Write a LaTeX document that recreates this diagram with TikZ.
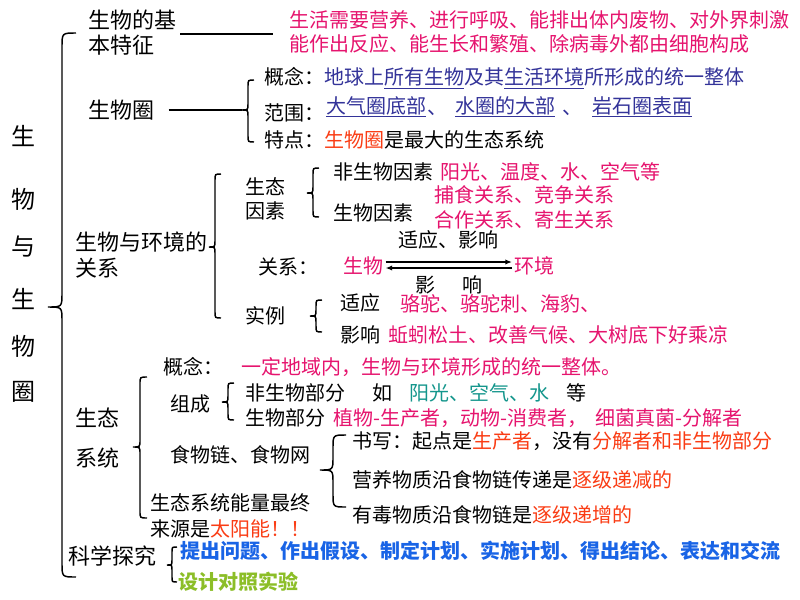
\documentclass[tikz,border=0pt]{standalone}
\usepackage{fontspec}
\setmainfont{Noto Sans CJK SC}
\usetikzlibrary{arrows.meta,calc}
\definecolor{mag}{RGB}{230,20,110}
\definecolor{navy}{RGB}{51,51,153}
\definecolor{ored}{RGB}{250,60,20}
\definecolor{teal2}{RGB}{20,150,140}
\definecolor{blu}{RGB}{25,100,230}
\definecolor{grn}{RGB}{140,190,40}
\newcommand\mybrace[5]{\draw[brc] ({#1+#5},{#2}) .. controls ({#1},{#2}) .. ({#1},{#2+#5}) -- ({#1},{#3-#5}) .. controls ({#1},{#3}) .. ({#1-#5},{#3}) .. controls ({#1},{#3}) .. ({#1},{#3+#5}) -- ({#1},{#4-#5}) .. controls ({#1},{#4}) .. ({#1+#5},{#4});}
\newcommand\ul[1]{\smash{\underline{#1}}}
\begin{document}
\begin{tikzpicture}[x=0.75pt,y=-0.75pt,
  t/.style={anchor=west,inner sep=0pt,font=\fontsize{15}{18}\selectfont},
  tb/.style={anchor=west,inner sep=0pt,font=\fontsize{16.5}{20}\selectfont},
  ttl/.style={inner sep=0pt,font=\fontsize{18}{20}\selectfont},
  brc/.style={line width=1.1pt},
  conn/.style={line width=1.5pt},
  arr/.style={line width=1.4pt,-{Latex[length=5pt,width=4pt]}}]
\useasboundingbox (0,0) rectangle (800,600);
\fill[white] (0,0) rectangle (800,600);
% title
\node[ttl] (c1) at (24,136) {生};
\node[ttl] (c2) at (24,199) {物};
\node[ttl] (c3) at (24,247) {与};
\node[ttl] (c4) at (24,299) {生};
\node[ttl] (c5) at (24,346) {物};
\node[ttl] (c6) at (24,392) {圈};
\mybrace{62}{33}{307}{577}{14}
% 1
\node[tb] (a1) at (88,20) {生物的基};
\node[tb] (a2) at (88,45) {本特征};
\coordinate (a1l) at (180,34);
\coordinate (a1r) at (273,34);
\draw[conn] (a1l) -- (a1r);
\node[t,mag] (m1) at (289,20) {生活需要营养、进行呼吸、能排出体内废物、对外界刺激};
\node[t,mag] (m2) at (289,44) {能作出反应、能生长和繁殖、除病毒外都由细胞构成};
% 2
\node[tb] (b0) at (88,110) {生物圈};
\coordinate (b0r) at (242,110);
\draw[conn] (b0.east) ++(14,0) -- (b0r);
\mybrace{248}{80}{110}{142}{6}
\node[t] (b1) at (264,77) {概念：\textcolor{navy}{地球上\ul{所有生物}及其\ul{生活环境}所形成的统一整体}};
\node[t] (b2) at (264,113) {范围：};
\node[t,navy] (b2a) at (326,113) {\ul{大气圈底部}};
\node[t,navy] (b2b) at (427,113) {、};
\node[t,navy] (b2c) at (455,113) {\ul{水圈的大部}};
\node[t,navy] (b2d) at (562,113) {、};
\node[t,navy] (b2e) at (592,113) {\ul{岩石圈表面}};
\node[t] (b3) at (264,140) {特点：\textcolor{ored}{生物圈}是最大的生态系统};
% 3
\node[tb] (e1) at (75,242) {生物与环境的};
\node[tb] (e2) at (75,268) {关系};
\mybrace{215}{174}{247}{318}{6}
\node[t] (f1) at (245,187) {生态};
\node[t] (f2) at (245,211) {因素};
\mybrace{313}{168}{193}{217}{6}
\node[t] (g1) at (333,172) {非生物因素};
\node[t,mag] (g1m) at (440,172) {阳光、温度、水、空气等};
\node[t] (g2) at (333,213) {生物因素};
\node[t,mag] (g2a) at (434,195) {捕食关系、竞争关系};
\node[t,mag] (g2b) at (434,220) {合作关系、寄生关系};
\node[t] (h0) at (398,240) {适应、影响};
\node[t] (h1) at (258,267) {关系：};
\node[t,mag] (bio) at (343,266) {生物};
\node[t,mag] (env) at (514,266) {环境};
\draw[arr] ($(bio.east)+(2,-4)$) -- ($(env.west)+(-2,-4)$);
\draw[arr] ($(env.west)+(-2,2)$) -- ($(bio.east)+(2,2)$);
\node[t] (h2) at (415,285) {影};
\node[t] (h3) at (462,285) {响};
\node[t] (i0) at (245,316) {实例};
\mybrace{316}{300}{316}{332}{6}
\node[t] (i1) at (340,303) {适应};
\node[t,mag] (i1m) at (400,304) {骆驼、骆驼刺、海豹、};
\node[t] (i2) at (340,335) {影响};
\node[t,mag] (i2m) at (388,335) {蚯蚓松土、改善气候、大树底下好乘凉};
% 4
\node[tb] (s1) at (75,418) {生态};
\node[tb] (s2) at (75,458) {系统};
\mybrace{140}{377}{447}{518}{7}
\node[t] (k0) at (163,367) {概念：};
\node[t,mag] (k0m) at (241,367) {一定地域内，生物与环境形成的统一整体。};
\node[t] (k1) at (170,404) {组成};
\mybrace{228}{383}{402}{420}{6}
\node[t] (k2) at (245,393) {非生物部分};
\node[t] (k2r) at (372,393) {如};
\node[t,teal2] (k2t) at (409,393) {阳光、空气、水};
\node[t] (k2e) at (566,393) {等};
\node[t] (k3) at (245,418) {生物部分};
\node[t,mag] (k3m) at (333,418) {植物-生产者，动物-消费者，\hspace{0.4em}细菌真菌-分解者};
\node[t] (l0) at (170,455) {食物链、食物网};
\mybrace{333}{435}{470}{507}{13}
\node[t] (l1) at (352,441) {书写：起点是\textcolor{ored}{生产者}，没有\textcolor{ored}{分解者和非生物部分}};
\node[t] (l2) at (352,480) {营养物质沿食物链传递是\textcolor{ored}{逐级递减的}};
\node[t] (l3) at (352,515) {有毒物质沿食物链是\textcolor{ored}{逐级递增的}};
\node[t] (n1) at (150,503) {生态系统能量最终};
\node[t] (n2) at (150,529) {来源是\textcolor{ored}{太阳能！！}};
% 5
\node[tb] (p0) at (68,556) {科学探究};
\mybrace{172}{547}{565}{582}{5}
\node[t,blu,font=\fontsize{15}{18}\selectfont\bfseries] (p1) at (180,551) {提出问题、作出假设、制定计划、实施计划、得出结论、表达和交流};
\node[t,grn,font=\fontsize{15}{18}\selectfont\bfseries] (p2) at (178,582) {设计对照实验};
\end{tikzpicture}
\end{document}
